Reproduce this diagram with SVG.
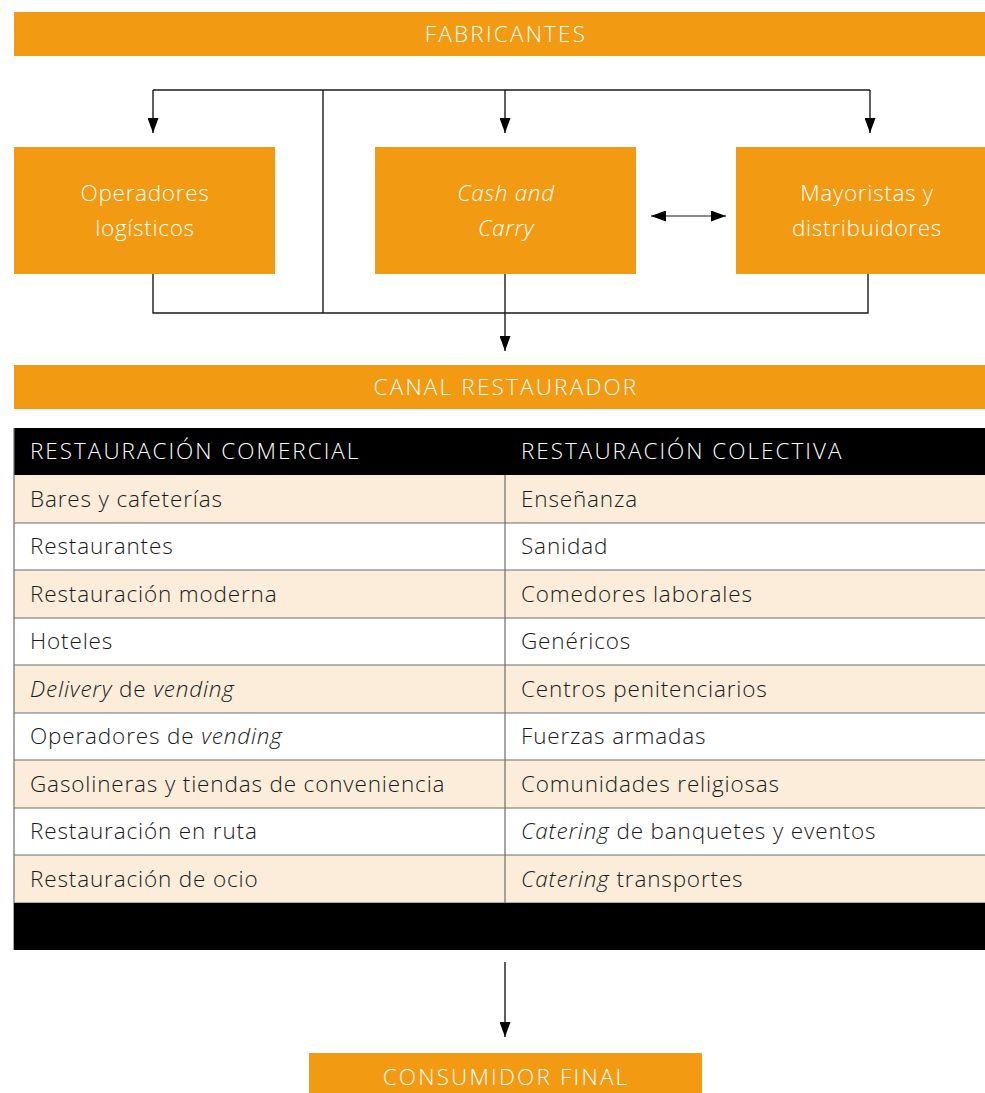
<svg xmlns="http://www.w3.org/2000/svg" width="985" height="1093" viewBox="0 0 985 1093">
  <style>
    .bar { fill: #F29A12; }
    .lbl { font-family: "Open Sans", "Liberation Sans", Arial, sans-serif; font-weight: 300; font-size: 22.5px; letter-spacing: 0.7px; fill: #FFFFFF; text-anchor: middle; }
    .caps { letter-spacing: 2.2px; }
    .cell { font-family: "Open Sans", "Liberation Sans", Arial, sans-serif; font-weight: 300; font-size: 22.5px; letter-spacing: 0.85px; fill: #1A1A1A; }
    .head { font-family: "Open Sans", "Liberation Sans", Arial, sans-serif; font-weight: 300; font-size: 22.5px; letter-spacing: 2px; fill: #FFFFFF; }
    .it { font-style: italic; }
    .tint { fill: #FBEDD9; }
    .plain { fill: #FFFFFF; }
    .rule { stroke: #6E6E6E; stroke-width: 1.2; fill: none; }
    .wire { stroke: #1A1A1A; stroke-width: 1.4; fill: none; }
  </style>
  <defs>
    <marker id="arrow" viewBox="0 0 15 11" refX="15" refY="5.5" markerWidth="15" markerHeight="11" markerUnits="userSpaceOnUse" orient="auto-start-reverse">
      <path d="M0,0 L15,5.5 L0,11 z" fill="#000"/>
    </marker>
  </defs>

  <!-- top bar -->
  <g id="fabricantes">
    <rect class="bar" x="14" y="12" width="971" height="44"/>
    <text class="lbl caps" x="506" y="42">FABRICANTES</text>
  </g>

  <!-- intermediaries -->
  <g id="operadores">
    <rect class="bar" x="14" y="147" width="261" height="127"/>
    <text class="lbl" x="145" y="201">Operadores</text>
    <text class="lbl" x="145" y="236">logísticos</text>
  </g>
  <g id="cash-carry">
    <rect class="bar" x="375" y="147" width="261" height="127"/>
    <text class="lbl it" x="506" y="201">Cash and</text>
    <text class="lbl it" x="506" y="236">Carry</text>
  </g>
  <g id="mayoristas">
    <rect class="bar" x="736" y="147" width="249" height="127"/>
    <text class="lbl" x="867" y="201">Mayoristas y</text>
    <text class="lbl" x="867" y="236">distribuidores</text>
  </g>

  <!-- channel bar -->
  <g id="canal">
    <rect class="bar" x="14" y="365" width="971" height="44"/>
    <text class="lbl caps" x="506" y="395">CANAL RESTAURADOR</text>
  </g>

  <!-- restaurant segments table -->
  <g id="tabla">
    <rect x="14" y="428" width="971" height="47" fill="#000"/>
    <text class="head" x="30" y="459">RESTAURACIÓN COMERCIAL</text>
    <text class="head" x="521" y="459">RESTAURACIÓN COLECTIVA</text>

    <rect class="tint" x="14" y="475" width="971" height="48"/>
    <rect class="plain" x="14" y="523" width="971" height="47"/>
    <rect class="tint" x="14" y="570" width="971" height="48"/>
    <rect class="plain" x="14" y="618" width="971" height="47"/>
    <rect class="tint" x="14" y="665" width="971" height="48"/>
    <rect class="plain" x="14" y="713" width="971" height="47"/>
    <rect class="tint" x="14" y="760" width="971" height="48"/>
    <rect class="plain" x="14" y="808" width="971" height="47"/>
    <rect class="tint" x="14" y="855" width="971" height="48"/>

    <path class="rule" d="M14,428 V950 M505,475 V903 M14,523 H985 M14,570 H985 M14,618 H985 M14,665 H985 M14,713 H985 M14,760 H985 M14,808 H985 M14,855 H985 M14,903 H985"/>

    <rect x="14" y="903" width="971" height="47" fill="#000"/>

    <text class="cell" x="30" y="507">Bares y cafeterías</text>
    <text class="cell" x="30" y="554">Restaurantes</text>
    <text class="cell" x="30" y="602">Restauración moderna</text>
    <text class="cell" x="30" y="649">Hoteles</text>
    <text class="cell" x="30" y="697"><tspan class="it">Delivery</tspan> de <tspan class="it">vending</tspan></text>
    <text class="cell" x="30" y="744">Operadores de <tspan class="it">vending</tspan></text>
    <text class="cell" x="30" y="792">Gasolineras y tiendas de conveniencia</text>
    <text class="cell" x="30" y="839">Restauración en ruta</text>
    <text class="cell" x="30" y="887">Restauración de ocio</text>

    <text class="cell" x="521" y="507">Enseñanza</text>
    <text class="cell" x="521" y="554">Sanidad</text>
    <text class="cell" x="521" y="602">Comedores laborales</text>
    <text class="cell" x="521" y="649">Genéricos</text>
    <text class="cell" x="521" y="697">Centros penitenciarios</text>
    <text class="cell" x="521" y="744">Fuerzas armadas</text>
    <text class="cell" x="521" y="792">Comunidades religiosas</text>
    <text class="cell" x="521" y="839"><tspan class="it">Catering</tspan> de banquetes y eventos</text>
    <text class="cell" x="521" y="887"><tspan class="it">Catering</tspan> transportes</text>
  </g>

  <!-- final consumer -->
  <g id="consumidor">
    <rect class="bar" x="309" y="1053" width="393" height="40"/>
    <text class="lbl caps" x="506" y="1085">CONSUMIDOR FINAL</text>
  </g>

  <!-- connectors -->
  <g id="conectores">
    <path class="wire" d="M153,90 H870"/>
    <path class="wire" d="M323,90 V313"/>
    <path class="wire" d="M153,90 V133" marker-end="url(#arrow)"/>
    <path class="wire" d="M505,90 V133" marker-end="url(#arrow)"/>
    <path class="wire" d="M870,90 V133" marker-end="url(#arrow)"/>
    <path class="wire" d="M153,274 V313 H868 V274"/>
    <path class="wire" d="M505,274 V351" marker-end="url(#arrow)"/>
    <path class="wire" d="M651,216 H726" marker-start="url(#arrow)" marker-end="url(#arrow)" style="stroke-width:1.2"/>
    <path class="wire" d="M505,962 V1037" marker-end="url(#arrow)"/>
  </g>
</svg>
